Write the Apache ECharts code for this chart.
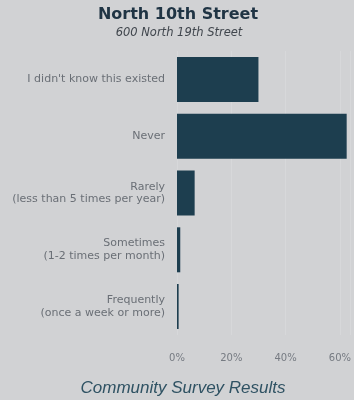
<!DOCTYPE html>
<html>
<head>
<meta charset="utf-8">
<style>
  html, body { margin: 0; padding: 0; background: #d1d2d4; }
  #chart { width: 354px; height: 400px; }
</style>
<script src="https://cdn.jsdelivr.net/npm/echarts@6/dist/echarts.min.js"></script>
</head>
<body>
<div id="chart"></div>
<script>
// How often respondents use the North 10th Street location
const categories = [
  "I didn't know this existed",
  "Never",
  "Rarely\n(less than 5 times per year)",
  "Sometimes\n(1-2 times per month)",
  "Frequently\n(once a week or more)"
];
const shares = [30, 62.5, 6.5, 1.2, 0.6];   // percent of respondents
const tickValues = [0, 20, 40, 60];

const chart = echarts.init(document.getElementById('chart'), null, { renderer: 'canvas' });

chart.setOption({
  backgroundColor: '#d1d2d4',
  animation: false,
  title: [
    {
      text: 'North 10th Street',
      left: 178, top: 7, padding: 0, textAlign: 'center',
      textStyle: { fontFamily: 'DejaVu Sans', fontWeight: 'bold', fontSize: 16, color: '#1f3444' }
    },
    {
      text: '600 North 19th Street',
      left: 179, top: 27, padding: 0, textAlign: 'center',
      textStyle: { fontFamily: 'DejaVu Sans', fontStyle: 'italic', fontWeight: 'normal', fontSize: 11.5, color: '#40464d' }
    },
    {
      text: 'Community Survey Results',
      left: 183, top: 380, padding: 0, textAlign: 'center',
      textStyle: { fontFamily: 'Liberation Sans', fontStyle: 'italic', fontWeight: 'normal', fontSize: 17, color: '#2f5263' }
    }
  ],
  grid: { left: 177, top: 51, width: 174.4, height: 284, containLabel: false },
  xAxis: {
    type: 'value',
    min: 0, max: 64, interval: 20,
    axisLine: { show: false },
    axisTick: { show: false },
    splitLine: { show: true, lineStyle: { color: 'rgba(255,255,255,0.14)', width: 1 } },
    axisLabel: {
      showMaxLabel: false,
      margin: 18,
      fontFamily: 'DejaVu Sans', fontSize: 10, color: '#767b82',
      formatter: v => tickValues.includes(v) ? v + '%' : ''
    }
  },
  yAxis: {
    type: 'category',
    data: categories,
    inverse: true,
    axisLine: { show: false },
    axisTick: { show: false },
    axisLabel: {
      margin: 12,
      fontFamily: 'DejaVu Sans', fontSize: 11, lineHeight: 12.5, color: '#6a6f76', align: 'right'
    }
  },
  series: [{
    type: 'bar',
    data: shares,
    barWidth: 45,
    itemStyle: { color: '#1d3e4f' }
  }]
});
</script>
</body>
</html>
